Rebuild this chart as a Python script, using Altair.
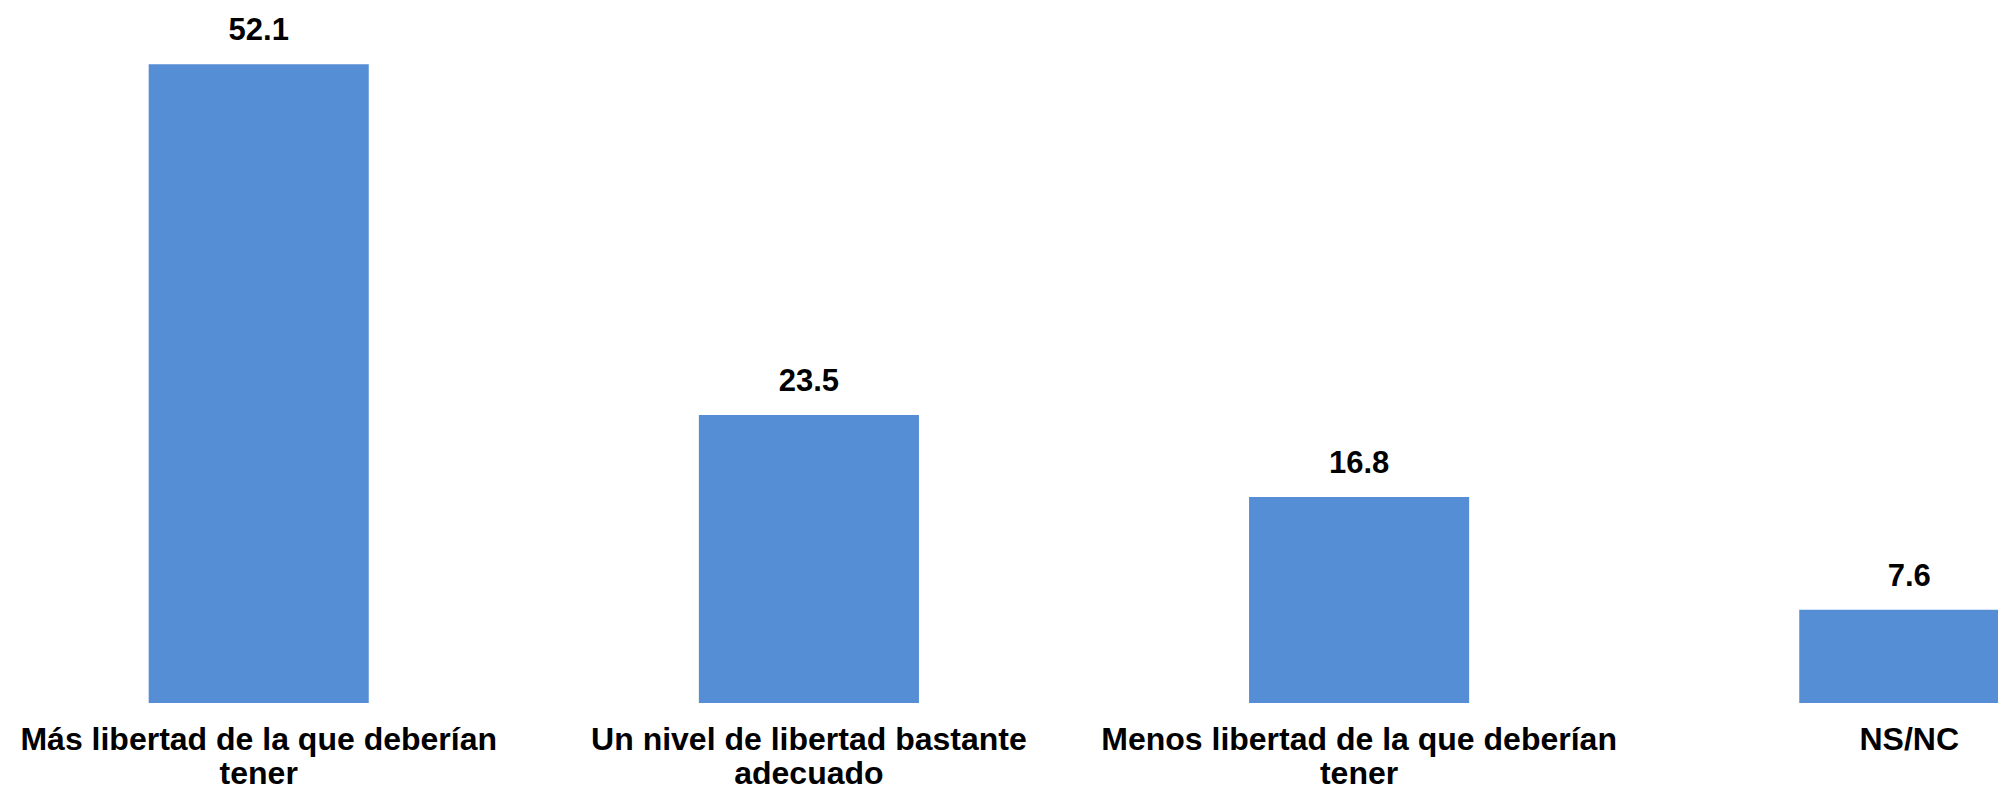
import altair as alt
import pandas as pd

categories = [
    "Más libertad de la que deberían\ntener",
    "Un nivel de libertad bastante\nadecuado",
    "Menos libertad de la que deberían\ntener",
    "NS/NC",
]
values = [52.1, 23.5, 16.8, 7.6]
value_labels = ["52.1", "23.5", "16.8", "7.6"]

df = pd.DataFrame({"cat": categories, "value": values, "label": value_labels})

x = alt.X(
    "cat:N",
    sort=None,
    scale=alt.Scale(range=[0, 2152], paddingInner=0.6, paddingOuter=0.2557),
    axis=alt.Axis(
        title=None,
        labelExpr="split(datum.label, '\\n')",
        labelFont="Liberation Sans",
        labelFontWeight="bold",
        labelFontSize=32,
        labelColor="black",
        labelLimit=1000,
        labelPadding=21,
        ticks=False,
        tickSize=0,
        domain=False,
        grid=False,
        labelAngle=0,
        labelLineHeight=34,
        labelBaseline="top",
    ),
)
y = alt.Y("value:Q", scale=alt.Scale(domain=[0, 56.69], nice=False, zero=True), axis=None)

base = alt.Chart(df).encode(x=x, y=y)
bars = base.mark_bar(color="#558ED5")
text = base.mark_text(
    font="Liberation Sans",
    fontWeight="bold",
    fontSize=31,
    dy=-24,
    baseline="alphabetic",
    color="black",
).encode(text="label:N")

chart = (
    (bars + text)
    .properties(
        width=1990,
        height=695,
        background="white",
        padding={"left": 0, "top": 0, "right": 0, "bottom": 86},
        autosize=alt.AutoSizeParams(type="none"),
    )
    .configure_view(strokeWidth=0, strokeOpacity=0)
)

chart.save("out.html", embed_options={"renderer": "svg", "actions": False})
